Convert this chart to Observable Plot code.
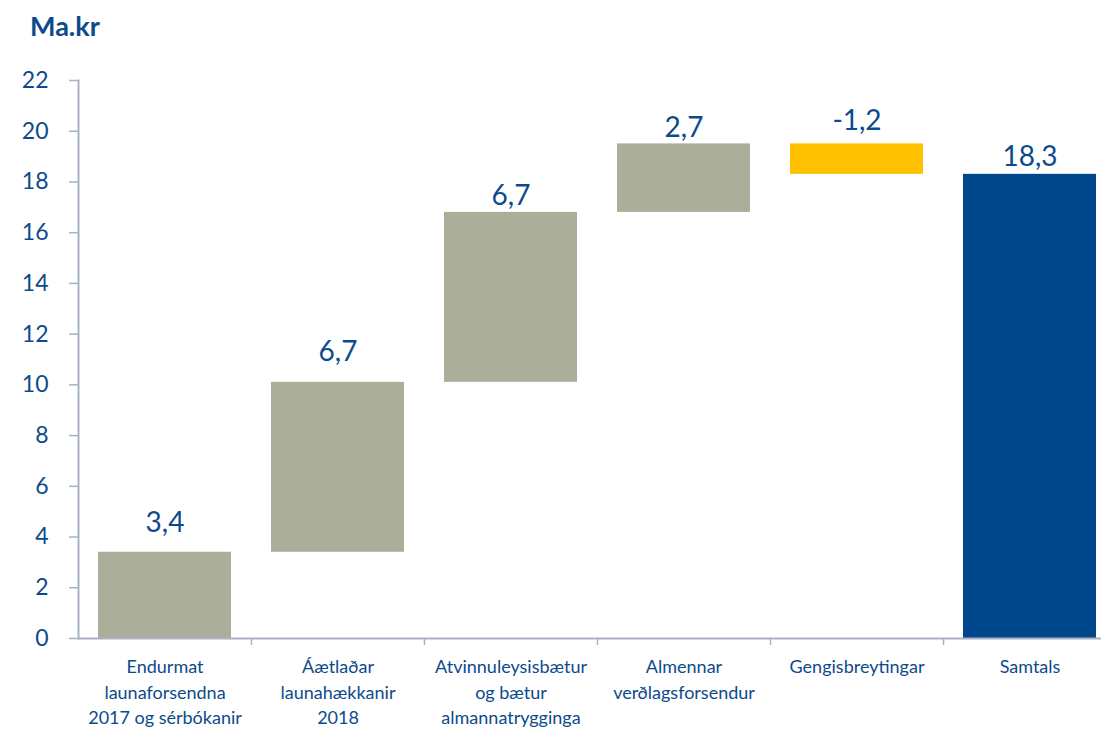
<!DOCTYPE html>
<html>
<head>
<meta charset="utf-8">
<script src="https://cdn.jsdelivr.net/npm/d3@7"></script>
<script src="https://cdn.jsdelivr.net/npm/@observablehq/plot@0.6"></script>
<style>
  html, body { margin: 0; padding: 0; background: #fff; overflow: hidden; }
  body { width: 1101px; height: 729px; font-family: Lato, "Open Sans", sans-serif; }
  #title { height: 50px; box-sizing: border-box; padding: 10px 0 0 30px; font-size: 27px; font-weight: 700; color: #0d4a8c; line-height: 32px; }
  #chart { width: 1101px; overflow: hidden; }
  #chart svg { display: block; max-width: none !important; }
</style>
</head>
<body>
<div id="title">Ma.kr</div>
<div id="chart"></div>
<script>
// ---- data ----
const categories = [
  "Endurmat\nlaunaforsendna\n2017 og sérbókanir",
  "Áætlaðar\nlaunahækkanir\n2018",
  "Atvinnuleysisbætur\nog bætur\nalmannatrygginga",
  "Almennar\nverðlagsforsendur",
  "Gengisbreytingar",
  "Samtals"
];
const values = [3.4, 6.7, 6.7, 2.7, -1.2, 18.3];
const valueLabels = ["3,4", "6,7", "6,7", "2,7", "-1,2", "18,3"];
const kinds = ["increase", "increase", "increase", "increase", "decrease", "total"];
const yTicks = [0, 2, 4, 6, 8, 10, 12, 14, 16, 18, 20, 22];

// ---- build waterfall table ----
let running = 0;
const rows = categories.map((c, i) => {
  let y1, y2;
  if (kinds[i] === "total") { y1 = 0; y2 = values[i]; running = values[i]; }
  else { y1 = running; y2 = running + values[i]; running = y2; }
  return { cat: c, y1, y2, top: Math.max(y1, y2), kind: kinds[i], label: valueLabels[i] };
});

// label lift (styling, px above bar top)
const lift = [29, 30, 16, 16, 23, 17];

const textColor = "#0d4a8c";
const axisColor = "#a9b1c7";
const colorMap = { increase: "#abae98", decrease: "#ffc000", total: "#00468b" };

const chart = Plot.plot({
  width: 1116,
  height: 679,
  marginLeft: 78,
  marginRight: 0,
  marginTop: 30,
  marginBottom: 91,
  style: { fontFamily: "Lato, 'Open Sans', sans-serif", color: textColor, background: "#fff", overflow: "visible", maxWidth: "none" },
  x: { domain: categories, paddingInner: 0.23, paddingOuter: 0.115, label: null },
  y: { domain: [0, 22], label: null },
  marks: [
    Plot.barY(rows, { x: "cat", y1: "y1", y2: "y2", fill: d => colorMap[d.kind] }),
    Plot.ruleY([0], { stroke: axisColor, strokeWidth: 2 }),
    Plot.frame({ anchor: "left", stroke: axisColor, strokeWidth: 2 }),
    Plot.axisY({ ticks: yTicks, tickSize: 9, tickPadding: 21, fontSize: 23, stroke: axisColor, strokeWidth: 1.5, fill: textColor, strokeOpacity: 1 }),
    Plot.axisX({ tickSize: 0, tickPadding: 17, fontSize: 18, lineHeight: 1.4, fill: textColor }),
    Plot.ruleX(categories.slice(1), { x: d => d, y1: 0, y2: 0, dx: -86.5, insetBottom: -7, stroke: axisColor, strokeWidth: 1.5 }),
    ...rows.map((r, i) => Plot.text([r], { x: "cat", y: "top", text: "label", dy: -lift[i], fontSize: 28, fill: textColor }))
  ]
});
document.getElementById("chart").appendChild(chart);
</script>
</body>
</html>
